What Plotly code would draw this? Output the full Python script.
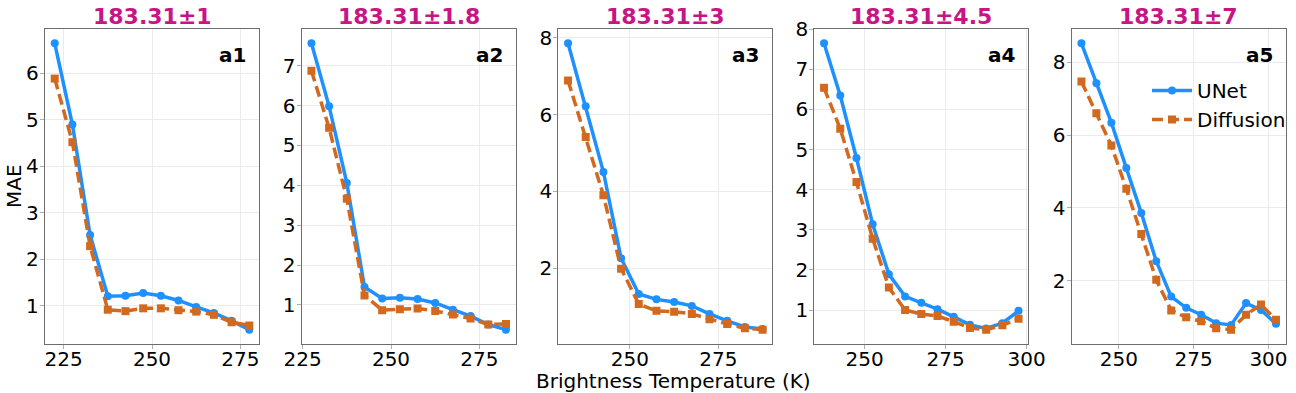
import plotly.graph_objects as go

titles = ["183.31±1", "183.31±1.8", "183.31±3", "183.31±4.5", "183.31±7"]
labels = ["a1", "a2", "a3", "a4", "a5"]

tb_1 = [222.5, 227.5, 232.5, 237.5, 242.5, 247.5, 252.5, 257.5, 262.5, 267.5, 272.5, 277.5]
unet_1 = [6.65, 4.90, 2.52, 1.20, 1.21, 1.27, 1.21, 1.11, 0.97, 0.84, 0.67, 0.48]
diff_1 = [5.89, 4.52, 2.28, 0.91, 0.88, 0.94, 0.94, 0.90, 0.87, 0.80, 0.64, 0.57]

tb_2 = [227.5, 232.5, 237.5, 242.5, 247.5, 252.5, 257.5, 262.5, 267.5, 272.5, 277.5, 282.5]
unet_2 = [7.56, 5.98, 4.06, 1.45, 1.16, 1.18, 1.15, 1.05, 0.88, 0.72, 0.51, 0.38]
diff_2 = [6.87, 5.44, 3.66, 1.24, 0.87, 0.89, 0.91, 0.85, 0.76, 0.66, 0.51, 0.52]

tb_3 = [232.5, 237.5, 242.5, 247.5, 252.5, 257.5, 262.5, 267.5, 272.5, 277.5, 282.5, 287.5]
unet_3 = [7.86, 6.22, 4.51, 2.26, 1.33, 1.19, 1.12, 1.02, 0.81, 0.63, 0.47, 0.42]
diff_3 = [6.89, 5.42, 3.90, 1.99, 1.07, 0.89, 0.87, 0.81, 0.67, 0.55, 0.44, 0.40]

tb_4 = [237.5, 242.5, 247.5, 252.5, 257.5, 262.5, 267.5, 272.5, 277.5, 282.5, 287.5, 292.5, 297.5]
unet_4 = [7.65, 6.35, 4.79, 3.14, 1.89, 1.34, 1.18, 1.02, 0.83, 0.63, 0.54, 0.67, 0.98]
diff_4 = [6.54, 5.52, 4.19, 2.78, 1.56, 1.00, 0.90, 0.85, 0.71, 0.55, 0.51, 0.62, 0.78]

tb_5 = [237.5, 242.5, 247.5, 252.5, 257.5, 262.5, 267.5, 272.5, 277.5, 282.5, 287.5, 292.5, 297.5, 302.5]
unet_5 = [8.52, 7.42, 6.34, 5.09, 3.86, 2.53, 1.56, 1.25, 1.06, 0.83, 0.78, 1.38, 1.19, 0.81]
diff_5 = [7.47, 6.60, 5.71, 4.52, 3.28, 2.02, 1.18, 0.99, 0.88, 0.69, 0.65, 1.06, 1.34, 0.92]

panels = [(tb_1, unet_1, diff_1), (tb_2, unet_2, diff_2), (tb_3, unet_3, diff_3),
          (tb_4, unet_4, diff_4), (tb_5, unet_5, diff_5)]
ytick_steps = [1, 1, 2, 1, 2]

W, H = 1296, 393
lefts = [45, 301.7, 558.3, 814.3, 1071.7]
pw = 214
ytop, ybot = 29, 344
ydom = [(H - ybot) / H, (H - ytop) / H]

BLUE = "#1E90FF"
ORANGE = "#D2691E"
TITLE_C = "#C71585"
FONT = "DejaVu Sans"

fig = go.Figure()
layout = dict(
    width=W, height=H,
    margin=dict(l=0, r=0, t=0, b=0, autoexpand=False),
    plot_bgcolor="white", paper_bgcolor="white",
    font=dict(family=FONT, size=20, color="black"),
    showlegend=True,
    legend=dict(x=1147 / W, y=(H - 71) / H, xanchor="left", yanchor="top",
                bgcolor="rgba(255,255,255,0)", font=dict(size=20, family=FONT),
                itemwidth=40, tracegroupgap=0),
)
annotations = []

def pad_range(vals):
    lo, hi = min(vals), max(vals)
    p = (hi - lo) * 0.05
    return [lo - p, hi + p]

for i, (tb, un, df) in enumerate(panels):
    k = "" if i == 0 else str(i + 1)
    xa, ya = "x" + k, "y" + k
    fig.add_trace(go.Scatter(x=tb, y=un, mode="lines+markers", name="UNet",
                             xaxis=xa, yaxis=ya, showlegend=(i == 4),
                             line=dict(color=BLUE, width=3.5),
                             marker=dict(symbol="circle", size=8, color=BLUE)))
    fig.add_trace(go.Scatter(x=tb, y=df, mode="lines+markers", name="Diffusion",
                             xaxis=xa, yaxis=ya, showlegend=(i == 4),
                             line=dict(color=ORANGE, width=3.5, dash="11px,5px"),
                             marker=dict(symbol="square", size=8, color=ORANGE)))
    x0 = lefts[i] / W
    x1 = (lefts[i] + pw) / W
    axis_common = dict(showline=True, linecolor="#6e6e6e", linewidth=1.3, mirror=True,
                       showgrid=True, gridcolor="#ebebeb", gridwidth=1,
                       ticks="outside", ticklen=4, tickcolor="#b0b0b0",
                       tickfont=dict(size=20, family=FONT, color="black"), zeroline=False)
    layout["xaxis" + k] = dict(domain=[x0, x1], anchor=ya, range=pad_range(tb),
                               tick0=0, dtick=25, ticklabelstandoff=-7, **axis_common)
    layout["yaxis" + k] = dict(domain=ydom, anchor=xa, range=pad_range(un + df),
                               tick0=0, dtick=ytick_steps[i], ticklabelstandoff=-3,
                               **axis_common)
    annotations.append(dict(text="<b>" + titles[i] + "</b>", x=(x0 + x1) / 2, y=(H - 16) / H,
                            xref="paper", yref="paper", showarrow=False,
                            xanchor="center", yanchor="middle",
                            font=dict(size=22, color=TITLE_C, family=FONT)))
    annotations.append(dict(text="<b>" + labels[i] + "</b>", x=(lefts[i] + pw - 11) / W,
                            y=(H - 55) / H, xref="paper", yref="paper", showarrow=False,
                            xanchor="right", yanchor="middle",
                            font=dict(size=20, color="black", family=FONT)))

annotations.append(dict(text="Brightness Temperature (K)", x=673 / W, y=(H - 381) / H,
                        xref="paper", yref="paper", showarrow=False,
                        xanchor="center", yanchor="middle",
                        font=dict(size=20, family=FONT, color="black")))
annotations.append(dict(text="MAE", x=14 / W, y=(H - 186) / H, xref="paper", yref="paper",
                        showarrow=False, textangle=-90, xanchor="center", yanchor="middle",
                        font=dict(size=20, family=FONT, color="black")))
layout["annotations"] = annotations
fig.update_layout(**layout)
fig.write_html("out.html", config={"displayModeBar": False},
               post_script="document.body.style.margin='0';document.body.style.padding='0';")
